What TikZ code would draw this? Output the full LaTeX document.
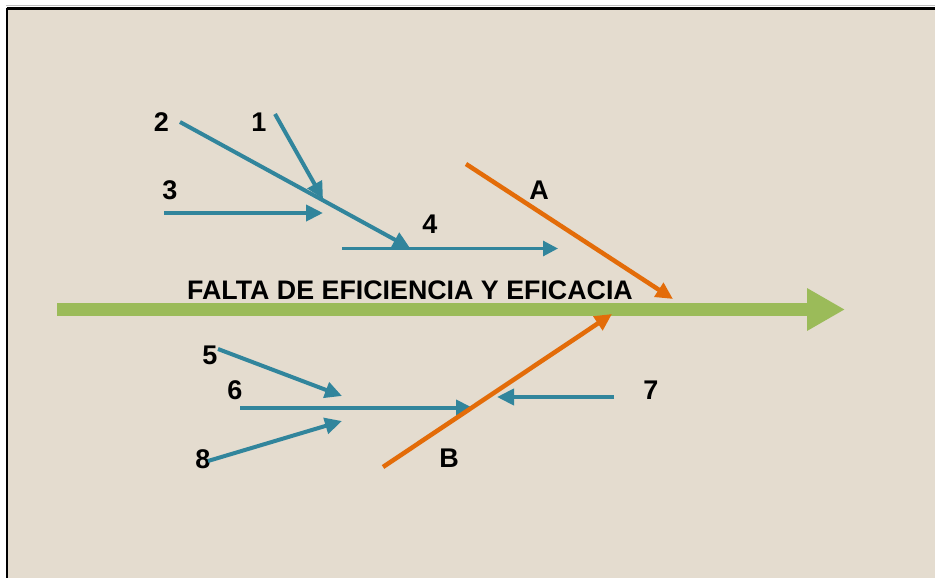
\documentclass[tikz,border=0pt]{standalone}
\usepackage{fontspec}
\setmainfont{Liberation Sans}
\usetikzlibrary{arrows.meta}
\definecolor{bgbeige}{HTML}{E4DCCF}
\definecolor{fishblue}{HTML}{31859C}
\definecolor{fishorange}{HTML}{E36C09}
\definecolor{fishgreen}{HTML}{9BBB59}
\tikzset{
  bluearrow/.style={draw=fishblue, line width=4pt, -{Triangle[length=17pt,width=16pt]}},
  thinbluearrow/.style={draw=fishblue, line width=3pt, -{Triangle[length=15pt,width=15pt]}},
  orangearrow/.style={draw=fishorange, line width=4.5pt, -{Triangle[length=17pt,width=16pt]}},
  mainarrow/.style={draw=fishgreen, line width=13pt, -{Triangle[length=38pt,width=40pt]}},
  lbl/.style={font=\bfseries\fontsize{27}{29}\selectfont, inner sep=0pt},
  title/.style={font=\bfseries\fontsize{26.8}{28}\selectfont, inner sep=0pt}
}
\begin{document}
\begin{tikzpicture}[x=1pt,y=-1pt]
\useasboundingbox (0,0) rectangle (935,578);
% background and frame
\fill[bgbeige] (8,9) rectangle (935,578);
\draw[gray!50, line width=1.5pt] (6,5.5) -- (935,5.5);
\draw[black, line width=2.5pt] (6.5,8.5) -- (935,8.5);
\draw[black, line width=2.5pt] (7,8) -- (7,578);
% coordinates
\coordinate (m0) at (57,309.5);
\coordinate (m1) at (845,309.5);
\coordinate (a0) at (466,164);
\coordinate (a1) at (673,299);
\coordinate (b0) at (383,467);
\coordinate (b1) at (612,314);
\coordinate (s2) at (180,122);
\coordinate (e2) at (410,248);
\coordinate (s1) at (275,114);
\coordinate (e1) at (323,199);
\coordinate (s3) at (164,213);
\coordinate (e3) at (323,213);
\coordinate (s4) at (342,248.5);
\coordinate (e4) at (558,248.5);
\coordinate (s5) at (218,349);
\coordinate (e5) at (342,396);
\coordinate (s6) at (240,408);
\coordinate (e6) at (473,408);
\coordinate (s8) at (208,461);
\coordinate (e8) at (342,421);
\coordinate (s7) at (614,397);
\coordinate (e7) at (497,397);
% main spine
\draw[mainarrow] (m0) -- (m1);
% labels
\node[title] (t) at (410,290) {FALTA DE EFICIENCIA Y EFICACIA};
\node[lbl] (l2) at (161.5,122) {2};
\node[lbl] (l1) at (259,122) {1};
\node[lbl] (l3) at (170,190) {3};
\node[lbl] (l4) at (430,224) {4};
\node[lbl] (lA) at (539,190) {A};
\node[lbl] (l5) at (210,355) {5};
\node[lbl] (l6) at (235,390) {6};
\node[lbl] (l7) at (651,390) {7};
\node[lbl] (l8) at (203,459) {8};
\node[lbl] (lB) at (449,458) {B};
% blue causes
\draw[bluearrow] (s2) -- (e2);
\draw[bluearrow] (s1) -- (e1);
\draw[bluearrow] (s3) -- (e3);
\draw[thinbluearrow] (s4) -- (e4);
\draw[bluearrow] (s5) -- (e5);
\draw[bluearrow] (s6) -- (e6);
\draw[bluearrow] (s8) -- (e8);
\draw[bluearrow] (s7) -- (e7);
% orange main causes
\draw[orangearrow] (a0) -- (a1);
\draw[orangearrow] (b0) -- (b1);
\end{tikzpicture}
\end{document}
